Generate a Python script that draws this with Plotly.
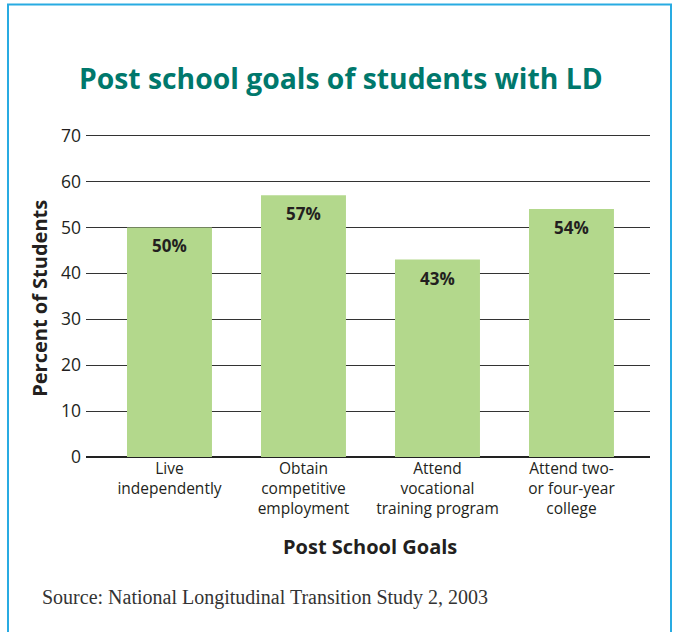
import plotly.graph_objects as go

categories = ["Live<br>independently", "Obtain<br>competitive<br>employment",
              "Attend<br>vocational<br>training program", "Attend two-<br>or four-year<br>college"]
values = [50, 57, 43, 54]
labels = ["50%", "57%", "43%", "54%"]
y_ticks = [0, 10, 20, 30, 40, 50, 60, 70]

W, H = 673, 632
YTOP = 71
L, R, B = 86, 650, 457
T = B - (457 - 136) * YTOP / 70.0

def px(x):
    return (x - L) / (R - L)

def py(y):
    return (B - y) / (B - T)

fig = go.Figure()
fig.add_trace(go.Bar(
    x=list(range(len(categories))), y=values,
    marker=dict(color="#b3d88c", line=dict(width=0)),
    width=0.634, hoverinfo="skip",
))

annotations = []
for i, (v, t) in enumerate(zip(values, labels)):
    annotations.append(dict(x=i, y=v, xref="x", yref="y", text="<b>%s</b>" % t,
                            showarrow=False, yanchor="top", yshift=-5,
                            font=dict(family="Open Sans", size=17, color="#231f20")))

annotations += [
    dict(x=px(340.5), y=py(78), xref="paper", yref="paper",
         text="<b>Post school goals of students with LD</b>", showarrow=False,
         xanchor="center", yanchor="middle",
         font=dict(family="Open Sans", size=28.3, color="#00786c")),
    dict(x=px(40), y=py(298), xref="paper", yref="paper",
         text="<b>Percent of Students</b>", showarrow=False, textangle=-90,
         xanchor="center", yanchor="middle",
         font=dict(family="Open Sans", size=20, color="#231f20")),
    dict(x=px(370), y=py(546), xref="paper", yref="paper",
         text="<b>Post School Goals</b>", showarrow=False,
         xanchor="center", yanchor="middle",
         font=dict(family="Open Sans", size=20, color="#231f20")),
    dict(x=px(40), y=py(597), xref="paper", yref="paper",
         text="Source: National Longitudinal Transition Study 2, 2003", showarrow=False,
         xanchor="left", yanchor="middle",
         font=dict(family="Liberation Serif", size=20, color="#333333")),
]

shapes = [
    dict(type="path", xref="paper", yref="paper",
         path="M %f %f L %f %f L %f %f L %f %f" % (px(8), py(650), px(8), py(5),
                                                  px(671), py(5), px(671), py(650)),
         line=dict(color="#29abe2", width=2)),
]

fig.update_layout(
    width=W, height=H,
    margin=dict(l=L, r=W - R, t=T, b=H - B, pad=0, autoexpand=False),
    paper_bgcolor="white", plot_bgcolor="white",
    showlegend=False,
    annotations=annotations, shapes=shapes,
    xaxis=dict(range=[-0.623, 3.586], tickmode="array",
               tickvals=list(range(len(categories))), ticktext=categories,
               showgrid=False, zeroline=False, showline=False, ticks="",
               tickfont=dict(family="Open Sans", size=15.5, color="#231f20")),
    yaxis=dict(range=[0, YTOP], tickvals=y_ticks, showgrid=True,
               gridcolor="#333333", gridwidth=1.3, zeroline=True,
               zerolinecolor="#222222", zerolinewidth=1.5,
               showline=False, ticks="", ticklabelstandoff=4,
               tickfont=dict(family="Open Sans", size=17.5, color="#231f20")),
)
fig.write_html("out.html", config={"displayModeBar": False},
               post_script="document.body.style.margin='0';document.body.style.overflow='hidden';")
